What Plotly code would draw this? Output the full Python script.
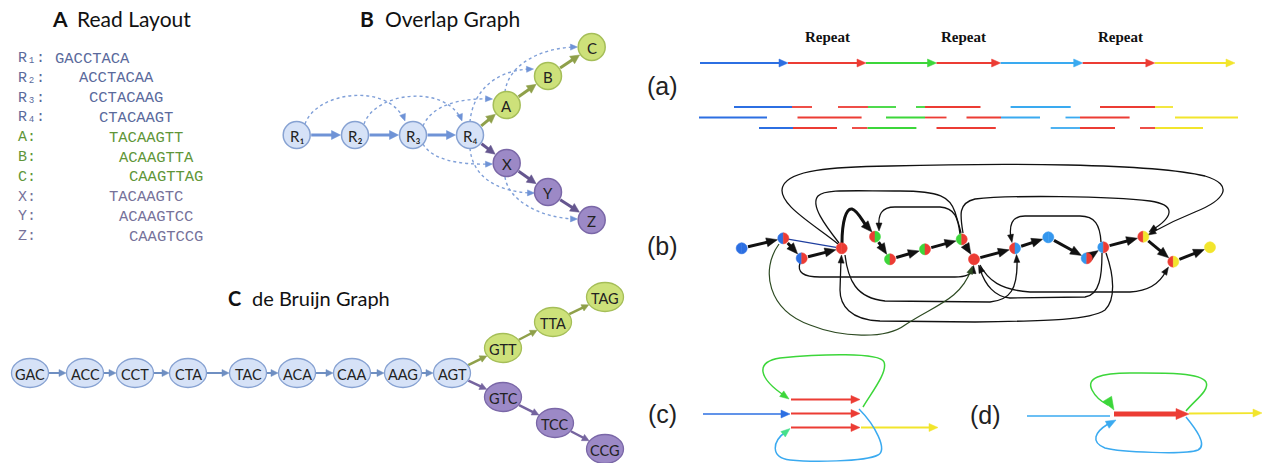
import math
import plotly.graph_objects as go

W, H = 1265, 463

# ---------------- data ----------------
read_names = ["R₁:", "R₂:", "R₃:", "R₄:", "A:", "B:", "C:", "X:", "Y:", "Z:"]
read_seqs = ["GACCTACA", "ACCTACAA", "CCTACAAG", "CTACAAGT", "TACAAGTT",
             "ACAAGTTA", "CAAGTTAG", "TACAAGTC", "ACAAGTCC", "CAAGTCCG"]
read_group = ["r", "r", "r", "r", "g", "g", "g", "p", "p", "p"]

ov_nodes = ["R1", "R2", "R3", "R4", "A", "B", "C", "X", "Y", "Z"]
ov_labels = ["R₁", "R₂", "R₃", "R₄", "A", "B", "C", "X", "Y", "Z"]
ov_group = ["r", "r", "r", "r", "g", "g", "g", "p", "p", "p"]
ov_solid = [("R1", "R2"), ("R2", "R3"), ("R3", "R4"), ("R4", "A"), ("A", "B"),
            ("B", "C"), ("R4", "X"), ("X", "Y"), ("Y", "Z")]

kmers_main = ["GAC", "ACC", "CCT", "CTA", "TAC", "ACA", "CAA", "AAG", "AGT"]
kmers_up = ["GTT", "TTA", "TAG"]
kmers_down = ["GTC", "TCC", "CCG"]

title_letters = ["A", "B", "C"]
title_texts = ["Read Layout", "Overlap Graph", "de Bruijn Graph"]
panel_labels = ["(a)", "(b)", "(c)", "(d)"]
repeat_text = ["Repeat", "Repeat", "Repeat"]

# genome segments in (a): colour keys along the top line
genome_colors = ["b", "r", "g", "r", "lb", "r", "y"]
# reads in (a): rows of reads, each read = list of (start, end, colour)
reads_rows = [
    [[(734, 792, "b"), (792, 812, "r")], [(838, 868, "r"), (868, 896, "g")],
     [(916, 925, "g"), (925, 980.5, "r")], [(1010.6, 1070.7, "lb")],
     [(1100, 1155, "r"), (1155, 1173, "y")]],
    [[(699, 767, "b")], [(797.5, 861.6, "r")], [(886, 925, "g"), (925, 946.5, "r")],
     [(966.5, 1001, "r"), (1001, 1040, "lb")], [(1065.5, 1080, "lb"), (1080, 1129.6, "r")],
     [(1175, 1238, "y")]],
    [[(759, 793, "b"), (793, 837, "r")], [(852, 867.6, "r"), (867.6, 916.4, "g")],
     [(936.5, 995.8, "r")], [(1050.7, 1080, "lb"), (1080, 1115, "r")],
     [(1140, 1155, "r"), (1155, 1203, "y")]],
]
# repeat graph (b) node colours (left half, right half)
b_node_cols = [("b", "b"), ("b", "r"), ("b", "r"), ("r", "r"), ("r", "g"), ("g", "r"),
               ("g", "r"), ("g", "r"), ("r", "r"), ("r", "lb2"), ("lb2", "lb2"),
               ("lb2", "r"), ("lb2", "r"), ("r", "y"), ("r", "y"), ("y", "y")]
b_path_edges = [(1, 2), (2, 3), (3, 4), (5, 6), (6, 7), (7, 8), (8, 9), (9, 10),
                (10, 11), (11, 12), (12, 13), (13, 14), (14, 15), (15, 16)]

# ---------------- styling / layout positions ----------------
COL = {"b": "#2c6fe2", "r": "#ec3c34", "g": "#3cd63a", "lb": "#3aaaf0",
       "lb2": "#3497ee", "y": "#f2e52c"}
TXT = {"r": "#5a6a9c", "g": "#5f9638", "p": "#76729a"}
NODE_FILL = {"r": "#d6e2f7", "g": "#cde17a", "p": "#9c89c6"}
NODE_LINE = {"r": "#87a2d2", "g": "#a5be58", "p": "#7a67a7"}
EDGE_COL = {"r": "#6f93d6", "g": "#8fa04a", "p": "#65568f"}

shapes = []
annots = []


def fmt(p):
    return f"{p[0]:.2f},{p[1]:.2f}"


def add_path(d, color, width, dash=None, fill=None):
    ln = dict(color=color, width=width)
    if dash:
        ln["dash"] = dash
    s = dict(type="path", path=d, xref="x", yref="y", line=ln)
    if fill:
        s["fillcolor"] = fill
    shapes.append(s)


def add_head(tip, frm, L, Wd, color):
    dx, dy = tip[0] - frm[0], tip[1] - frm[1]
    n = math.hypot(dx, dy)
    ux, uy = dx / n, dy / n
    bx, by = tip[0] - ux * L, tip[1] - uy * L
    px, py = -uy * Wd / 2, ux * Wd / 2
    d = f"M {fmt(tip)} L {fmt((bx + px, by + py))} L {fmt((bx - px, by - py))} Z"
    shapes.append(dict(type="path", path=d, xref="x", yref="y", fillcolor=color,
                       line=dict(color=color, width=0.5)))


def add_arrow(p0, p1, color, width, L, Wd, dash=None):
    dx, dy = p1[0] - p0[0], p1[1] - p0[1]
    n = math.hypot(dx, dy)
    ux, uy = dx / n, dy / n
    base = (p1[0] - ux * L * 0.7, p1[1] - uy * L * 0.7)
    add_path(f"M {fmt(p0)} L {fmt(base)}", color, width, dash)
    add_head(p1, p0, L, Wd, color)


def add_curve(d, color, width, head=None, dash=None):
    add_path(d, color, width, dash)
    if head:
        tip, frm, L, Wd = head
        add_head(tip, frm, L, Wd, color)


def add_line(p0, p1, color, width):
    add_path(f"M {fmt(p0)} L {fmt(p1)}", color, width)


def add_text(x, y, text, size, color, family, xanchor="center", yanchor="middle", weight="normal"):
    annots.append(dict(x=x, y=y, xref="x", yref="y", text=text, showarrow=False,
                       xanchor=xanchor, yanchor=yanchor,
                       font=dict(size=size, color=color, family=family, weight=weight)))


def ellipse(cx, cy, rx, ry, fill, line, lw=1.3):
    shapes.append(dict(type="circle", xref="x", yref="y", x0=cx - rx, x1=cx + rx,
                       y0=cy - ry, y1=cy + ry, fillcolor=fill, line=dict(color=line, width=lw)))


def half_disc(cx, cy, r, side, color):
    pts = []
    a0 = math.pi / 2 if side == "L" else -math.pi / 2
    for k in range(17):
        a = a0 + math.pi * k / 16
        pts.append((cx + r * math.cos(a), cy - r * math.sin(a)))
    d = "M " + " L ".join(fmt(p) for p in pts) + " Z"
    shapes.append(dict(type="path", path=d, xref="x", yref="y", fillcolor=color,
                       line=dict(color=color, width=0.5)))


def edge_dist(u, rx, ry):
    return 1.0 / math.sqrt((u[0] / rx) ** 2 + (u[1] / ry) ** 2)


def title(xl, xt, y, letter, text, size):
    add_text(xl, y, letter, size, "#111", "Lato", xanchor="left", weight="bold")
    add_text(xt, y, text, size, "#111", "Lato", xanchor="left")


# ---------------- Panel A: read layout ----------------
title(50, 75, 18, title_letters[0], title_texts[0], 21)
row_y0, row_dy = 58.5, 19.8
seq_x = [53, 77, 87, 97, 107, 117, 127, 107, 117, 127]
for i, (nm, sq, g) in enumerate(zip(read_names, read_seqs, read_group)):
    y = row_y0 + i * row_dy
    add_text(16, y, nm, 15, TXT[g], "Liberation Mono", xanchor="left")
    add_text(seq_x[i], y, sq, 15.5, TXT[g], "Liberation Mono", xanchor="left")

# ---------------- Panel B: overlap graph ----------------
title(358, 383, 18, title_letters[1], title_texts[1], 21)
posB = {"R1": (296.7, 135), "R2": (355, 135), "R3": (413, 135), "R4": (470, 135),
        "A": (506.7, 105), "B": (548, 76), "C": (591.7, 47),
        "X": (506.7, 163), "Y": (548, 192), "Z": (591.7, 220)}
grpB = dict(zip(ov_nodes, ov_group))
rB = 13.5
DOT = "#7f9fd8"
dotted = [
    ("M 305,124 C 316,92 386,82 404,119", ((405, 121), (401, 110))),
    ("M 364,124 C 375,92 444,84 461,119", ((462, 121), (458, 110))),
    ("M 423,126 C 432,105 460,98 490,99", ((492.5, 99), (482, 98.6))),
    ("M 423,144 C 432,160 460,165 490,164", ((492.5, 164), (482, 164.3))),
    ("M 470,122 C 472,95 492,70 531,69", ((533.5, 69), (522, 69.5))),
    ("M 505,92 C 508,65 540,48 575,47", ((577.5, 47), (566, 47.2))),
    ("M 470,148 C 472,175 495,192 532,193", ((534.5, 193), (523, 192.8))),
    ("M 505,177 C 508,200 540,218 575,219", ((577.5, 219), (566, 218.8))),
]
for d, (tip, frm) in dotted:
    add_curve(d, DOT, 1.4, dash="dot")
    add_head(tip, frm, 7, 6, "#6f93d6")
for a, b in ov_solid:
    p, q = posB[a], posB[b]
    dx, dy = q[0] - p[0], q[1] - p[1]
    n = math.hypot(dx, dy)
    u = (dx / n, dy / n)
    g = grpB[b]
    s = (p[0] + u[0] * (rB + 1), p[1] + u[1] * (rB + 1))
    t = (q[0] - u[0] * (rB + 1), q[1] - u[1] * (rB + 1))
    add_arrow(s, t, EDGE_COL[g], 3, 9, 9)
for nm, lab, g in zip(ov_nodes, ov_labels, ov_group):
    cx, cy = posB[nm]
    ellipse(cx, cy, rB, rB, NODE_FILL[g], NODE_LINE[g], 1.5)
    add_text(cx, cy + 1, lab, 15, "#222", "Lato")

# ---------------- Panel C: de Bruijn graph ----------------
title(226, 250, 298, title_letters[2], title_texts[2], 20)
main_x = [30, 85, 135, 188, 248, 297, 352, 403, 452]
main_y = 373
up_pos = [(503, 348), (553, 322), (605, 297)]
down_pos = [(503, 397), (555, 423), (605, 449)]
rx, ry = 18.5, 14.5


def kmer_arrow(p, q, color, width):
    dx, dy = q[0] - p[0], q[1] - p[1]
    n = math.hypot(dx, dy)
    u = (dx / n, dy / n)
    e = edge_dist(u, rx, ry)
    s = (p[0] + u[0] * (e + 0.5), p[1] + u[1] * (e + 0.5))
    t = (q[0] - u[0] * (e + 0.5), q[1] - u[1] * (e + 0.5))
    add_arrow(s, t, color, width, 7, 7)


for i in range(len(main_x) - 1):
    kmer_arrow((main_x[i], main_y), (main_x[i + 1], main_y), "#6f8fc2", 2)
prev = (main_x[-1], main_y)
for p in up_pos:
    kmer_arrow(prev, p, EDGE_COL["g"], 2.5)
    prev = p
prev = (main_x[-1], main_y)
for p in down_pos:
    kmer_arrow(prev, p, "#75649f", 2.5)
    prev = p
for x, k in zip(main_x, kmers_main):
    ellipse(x, main_y, rx, ry, NODE_FILL["r"], NODE_LINE["r"])
    add_text(x, main_y + 1, k, 14.5, "#222", "Lato")
for (x, y), k in zip(up_pos, kmers_up):
    ellipse(x, y, rx, ry, NODE_FILL["g"], NODE_LINE["g"])
    add_text(x, y + 1, k, 14.5, "#222", "Lato")
for (x, y), k in zip(down_pos, kmers_down):
    ellipse(x, y, rx, ry, NODE_FILL["p"], NODE_LINE["p"])
    add_text(x, y + 1, k, 14.5, "#222", "Lato")

# ---------------- Panel (a) ----------------
PL_FONT = "Liberation Sans"
add_text(662, 86, panel_labels[0], 25, "#222", PL_FONT)
gx = [700, 788, 866, 936.5, 1000.6, 1082.7, 1154.8, 1235]
gy = 63
for i, c in enumerate(genome_colors):
    add_arrow((gx[i], gy), (gx[i + 1], gy), COL[c], 1.8, 9, 8)
for x, t in zip([827, 963, 1120], repeat_text):
    add_text(x, 37, t, 15, "#111", "Liberation Serif", weight="bold")
for ry_, row in zip([107, 117.5, 128], reads_rows):
    for rd in row:
        for (x0, x1, c) in rd:
            add_line((x0, ry_), (x1, ry_), COL[c], 1.8)

# ---------------- Panel (b) ----------------
add_text(662, 246, panel_labels[1], 25, "#222", PL_FONT)
nb = {1: (741.7, 248.3), 2: (783.3, 238.3), 3: (801.7, 258.3), 4: (841.7, 248.3),
      5: (875, 236.7), 6: (890, 259.3), 7: (925, 249.3), 8: (961.7, 239.3),
      9: (974, 259.3), 10: (1015, 248.3), 11: (1048.3, 237.3), 12: (1086.7, 258.3),
      13: (1103.3, 247.3), 14: (1143.3, 236.7), 15: (1173.3, 261.7), 16: (1210, 247.3)}
rn = 5.5
K = "#111111"
thin = [
    ("M 838,244 C 815,225 775,203 783,186 C 790,170 830,167 890,166 C 1000,163 1150,163 1205,176 "
     "C 1235,185 1225,200 1195,212 C 1175,220 1160,228 1151,233", ((1148, 235), (1160, 228))),
    ("M 839,243 C 825,225 810,205 818,196 C 825,189 850,191 900,191 C 940,191 950,197 955,212 "
     "C 958,222 960,228 961,233", None),
    ("M 963,233 C 960,215 958,203 975,199 C 1010,195 1110,196 1150,201 C 1178,205 1172,218 1152,230",
     ((1149, 232), (1160, 224))),
    ("M 960,234 C 958,218 955,208 940,207 L 895,207 C 881,207 878,215 879,227",
     ((879, 231), (879, 220))),
    ("M 1101,242 C 1100,225 1095,216 1080,216 L 1025,216 C 1011,216 1009,226 1011,239",
     ((1012, 242.5), (1010, 232))),
    ("M 800,263 C 797,272 803,277 820,277 L 955,277 C 968,277 972,273 973,269",
     ((973.5, 265.5), (973, 274))),
    ("M 845,255 C 848,280 856,298 885,301 L 990,302 C 1010,300 1018,290 1017,258",
     ((1016.5, 254.5), (1017, 266))),
    ("M 1106,253 C 1114,275 1116,300 1105,310 C 1090,320 1050,321 975,322 L 880,321 "
     "C 850,320 840,305 840,290 L 841,259", ((841.5, 255), (841, 266))),
    ("M 980,265 C 988,280 1000,290 1030,292 L 1130,292 C 1150,291 1160,283 1166,271",
     ((1168.5, 267), (1162, 277))),
    ("M 1102,253 C 1102,275 1100,295 1085,297 L 1010,298 C 995,297 985,285 980,269",
     ((978.5, 265), (983, 275))),
]
for d, head in thin:
    if head:
        add_curve(d, K, 1.3, head=(head[0], head[1], 8, 6))
    else:
        add_curve(d, K, 1.3)
add_curve("M 779,244 C 760,270 768,310 810,325 C 840,337 885,340 905,325 C 935,305 960,300 971,270",
          "#2d4a22", 1.2, head=((972.5, 266), (968, 278), 8, 6))
add_line((788, 239.2), (836, 247.3), "#1f3fa0", 1.2)
for a, b in b_path_edges:
    p, q = nb[a], nb[b]
    dx, dy = q[0] - p[0], q[1] - p[1]
    n = math.hypot(dx, dy)
    u = (dx / n, dy / n)
    s = (p[0] + u[0] * (rn + 1), p[1] + u[1] * (rn + 1))
    t = (q[0] - u[0] * (rn + 0.5), q[1] - u[1] * (rn + 0.5))
    add_arrow(s, t, K, 3, 11, 9)
add_curve("M 842,243 C 842,222 846,208 852,209 C 857,210 862,220 867,227", K, 3,
          head=((872, 232), (864, 223), 11, 9))
for i, (cl, cr) in enumerate(b_node_cols, start=1):
    cx, cy = nb[i]
    half_disc(cx, cy, rn, "L", COL[cl])
    half_disc(cx, cy, rn, "R", COL[cr])

# ---------------- Panel (c) ----------------
add_text(662, 414, panel_labels[2], 25, "#222", PL_FONT)
add_arrow((703, 414), (790, 414), COL["b"], 1.5, 9, 8)
for yy in [399.5, 413.5, 427.5]:
    add_arrow((791, yy), (860, yy), COL["r"], 2, 9, 8)
add_arrow((861, 427.5), (938, 427.5), COL["y"], 1.8, 9, 8)
add_curve("M 863,407 C 872,392 888,372 884,362 C 880,352 820,354 780,358 C 755,362 758,378 785,396",
          COL["g"], 1.5, head=((789, 399), (778, 391), 9, 7))
add_curve("M 859,409 C 875,425 888,450 878,455 C 865,462 810,462 790,460 C 770,458 772,440 786,432",
          COL["lb"], 1.5)
add_head((790, 428.5), (781, 436), 9, 7, "#46e08c")

# ---------------- Panel (d) ----------------
add_text(985, 415, panel_labels[3], 25, "#222", PL_FONT)
add_line((1027, 416), (1110, 416), COL["lb"], 1.5)
add_arrow((1114, 414), (1189, 414), COL["r"], 5, 13, 11)
add_arrow((1189, 413.5), (1262, 413), COL["y"], 1.8, 9, 8)
add_curve("M 1186,411 C 1195,400 1210,390 1206,382 C 1200,372 1160,373 1130,373 C 1100,373 1086,378 1092,390 "
          "C 1096,398 1102,402 1108,405", COL["g"], 1.5, head=((1114, 410), (1105, 395), 13, 10))
add_curve("M 1186,417 C 1195,428 1208,445 1198,450 C 1185,455 1120,452 1105,448 C 1090,442 1095,432 1108,424",
          COL["lb"], 1.5, head=((1116, 420), (1105, 426), 10, 8))

# ---------------- figure ----------------
fig = go.Figure()
fig.add_trace(go.Scatter(x=[0, W], y=[0, H], mode="markers", marker=dict(opacity=0),
                         hoverinfo="skip", showlegend=False))
fig.update_layout(
    width=W, height=H, autosize=False,
    margin=dict(l=0, r=0, t=0, b=0, pad=0),
    paper_bgcolor="white", plot_bgcolor="white",
    xaxis=dict(range=[0, W], visible=False, fixedrange=True),
    yaxis=dict(range=[H, 0], visible=False, fixedrange=True),
    shapes=shapes, annotations=annots, showlegend=False, hovermode=False,
)
fig.write_html("out.html", config={"displayModeBar": False, "staticPlot": True},
               post_script="document.body.style.margin='0';document.body.style.overflow='hidden';")
